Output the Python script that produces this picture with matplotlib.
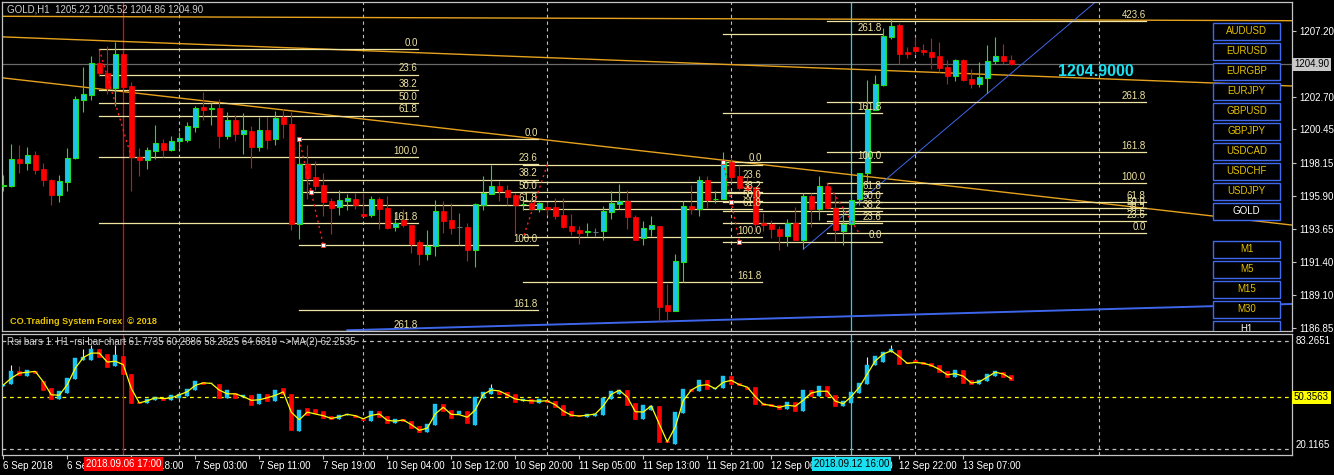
import matplotlib

matplotlib.use("Agg")
import matplotlib.pyplot as plt
import matplotlib.transforms as mtransforms
from matplotlib.patches import Rectangle
import numpy as np
import pandas as pd

plt.rcParams["font.family"] = ["Liberation Sans", "DejaVu Sans"]

W, H = 1334, 475
BG = "#000000"
BULL = "#1CC4F2"
BULL_EDGE = "#22DD22"
BEAR = "#FF0000"
DOJI = "#5C7878"
FIB = "#EFE4A2"
ORANGE = "#E6A21E"
BLUE = "#3E66EA"
GRID = "#BDBDBD"
FRAME = "#C4C4C4"

# GOLD H1, bar 0 = 2018.09.06 02:00
opens = [1196.58, 1196.60, 1198.41, 1198.18, 1198.70, 1197.75, 1197.00, 1195.98, 1196.88, 1198.48,
         1202.47, 1202.83, 1205.01, 1204.32, 1203.29, 1205.62, 1203.43, 1198.57, 1198.38, 1199.00,
         1199.53, 1199.07, 1199.63, 1199.75, 1200.65, 1201.99, 1201.88, 1201.92, 1200.03, 1201.10,
         1200.16, 1200.35, 1199.27, 1200.42, 1199.80, 1201.33, 1200.83, 1193.98, 1198.07, 1197.20,
         1196.65, 1195.55, 1195.16, 1195.57, 1195.69, 1194.64, 1194.59, 1195.69, 1195.07, 1193.79,
         1194.25, 1193.91, 1192.72, 1191.94, 1192.49, 1194.87, 1194.25, 1193.75, 1193.77, 1192.20,
         1195.28, 1196.05, 1196.58, 1196.31, 1195.96, 1195.35, 1195.44, 1194.98, 1195.14, 1195.14,
         1194.59, 1193.84, 1193.57, 1193.43, 1193.43, 1193.52, 1194.80, 1195.35, 1195.55, 1194.46,
         1193.00, 1193.64, 1193.84, 1188.43, 1188.02, 1191.38, 1195.21, 1195.01, 1196.99, 1195.66,
         1195.69, 1198.24, 1197.27, 1196.58, 1196.49, 1194.05, 1193.98, 1193.62, 1193.16, 1194.05,
         1192.88, 1195.90, 1195.01, 1196.56, 1195.05, 1193.52, 1193.98, 1195.67, 1197.45, 1201.79,
         1203.50, 1206.79, 1207.61, 1205.76, 1206.10, 1205.92, 1205.76, 1205.48, 1204.73, 1204.14,
         1205.21, 1203.91, 1203.59, 1204.00, 1205.14, 1205.48, 1205.22]
highs = [1197.33, 1199.46, 1199.39, 1199.25, 1198.98, 1198.18, 1197.04, 1197.33, 1199.18, 1202.74,
         1204.75, 1205.48, 1205.90, 1206.17, 1206.46, 1205.90, 1203.70, 1199.18, 1199.25, 1200.76,
         1199.80, 1200.01, 1200.28, 1200.96, 1202.06, 1203.04, 1202.27, 1202.54, 1201.65, 1201.44,
         1201.58, 1200.69, 1201.33, 1201.29, 1201.72, 1201.83, 1201.67, 1199.73, 1199.39, 1198.29,
         1197.47, 1195.74, 1196.31, 1196.03, 1196.12, 1196.12, 1195.90, 1195.81, 1195.90, 1194.80,
         1195.01, 1193.91, 1192.88, 1193.57, 1195.62, 1195.55, 1195.42, 1194.73, 1194.05, 1195.42,
         1197.27, 1198.02, 1196.92, 1196.65, 1196.08, 1195.76, 1195.76, 1195.51, 1195.51, 1195.74,
         1195.74, 1194.66, 1193.84, 1194.05, 1193.70, 1195.21, 1196.24, 1196.72, 1196.31, 1194.59,
         1194.18, 1194.53, 1193.84, 1189.87, 1191.92, 1195.55, 1196.65, 1197.27, 1197.27, 1196.24,
         1198.91, 1198.50, 1198.02, 1197.33, 1196.53, 1194.73, 1194.25, 1193.84, 1194.32, 1195.14,
         1196.08, 1196.08, 1197.27, 1196.77, 1195.96, 1195.05, 1195.76, 1197.45, 1203.84, 1204.18,
         1207.38, 1208.02, 1207.74, 1206.12, 1206.81, 1206.29, 1206.72, 1206.44, 1205.21, 1205.30,
         1205.28, 1204.59, 1205.07, 1206.24, 1206.79, 1206.31, 1205.52]
lows = [1196.26, 1196.53, 1197.49, 1197.68, 1197.40, 1196.60, 1195.30, 1195.51, 1196.26, 1198.45,
        1201.67, 1202.47, 1204.11, 1202.88, 1202.06, 1203.02, 1196.26, 1197.29, 1197.75, 1198.45,
        1198.57, 1199.00, 1199.14, 1199.61, 1200.30, 1201.12, 1200.76, 1199.20, 1199.82, 1199.68,
        1198.79, 1197.83, 1199.00, 1199.11, 1199.39, 1199.89, 1193.57, 1192.97, 1195.69, 1196.31,
        1194.55, 1193.29, 1194.59, 1194.94, 1195.01, 1194.55, 1194.44, 1193.64, 1193.64, 1193.52,
        1193.79, 1191.99, 1191.17, 1191.53, 1191.81, 1193.36, 1193.29, 1192.54, 1191.44, 1191.05,
        1194.94, 1196.05, 1195.55, 1195.28, 1193.22, 1194.94, 1194.94, 1194.82, 1194.59, 1194.32,
        1193.72, 1193.22, 1192.61, 1193.16, 1193.16, 1192.88, 1194.32, 1195.01, 1193.64, 1192.88,
        1192.54, 1193.16, 1187.27, 1187.27, 1188.02, 1190.01, 1194.66, 1194.53, 1195.07, 1195.42,
        1195.69, 1196.88, 1196.31, 1196.10, 1193.45, 1193.48, 1193.04, 1192.20, 1192.49, 1192.88,
        1192.25, 1193.79, 1194.23, 1195.05, 1192.81, 1192.54, 1193.91, 1195.28, 1196.88, 1201.79,
        1203.45, 1206.65, 1204.96, 1205.35, 1205.62, 1205.55, 1204.59, 1204.39, 1203.57, 1203.79,
        1203.79, 1203.29, 1203.36, 1202.93, 1204.94, 1204.94, 1204.86]
closes = [1196.65, 1198.41, 1198.18, 1198.70, 1197.68, 1197.01, 1195.98, 1196.90, 1198.50, 1202.54,
          1202.88, 1205.01, 1204.32, 1203.29, 1205.62, 1203.36, 1198.57, 1198.38, 1199.03, 1199.53,
          1199.07, 1199.66, 1199.87, 1200.69, 1201.92, 1201.81, 1201.92, 1200.03, 1201.10, 1200.16,
          1200.40, 1199.27, 1200.42, 1199.75, 1201.22, 1200.83, 1193.98, 1198.07, 1197.13, 1196.56,
          1195.51, 1195.09, 1195.62, 1195.76, 1195.26, 1194.55, 1195.69, 1195.01, 1193.70, 1194.03,
          1193.91, 1192.61, 1191.94, 1192.49, 1194.87, 1194.18, 1193.70, 1193.75, 1192.20, 1195.35,
          1196.10, 1196.58, 1196.24, 1195.83, 1195.28, 1195.38, 1194.98, 1195.44, 1195.01, 1194.55,
          1193.77, 1193.50, 1193.36, 1193.47, 1193.43, 1194.87, 1195.42, 1195.55, 1194.46, 1192.88,
          1193.70, 1193.91, 1188.29, 1188.02, 1191.42, 1195.21, 1195.01, 1196.99, 1195.62, 1195.70,
          1198.24, 1197.20, 1196.44, 1196.31, 1193.98, 1193.91, 1193.62, 1193.16, 1194.05, 1192.88,
          1195.90, 1195.01, 1196.56, 1195.05, 1193.57, 1193.98, 1195.62, 1197.45, 1201.83, 1203.57,
          1206.85, 1207.54, 1205.64, 1205.64, 1205.85, 1205.74, 1205.42, 1204.66, 1204.11, 1205.21,
          1203.84, 1203.57, 1204.05, 1205.14, 1205.48, 1205.14, 1204.90]

# RSI bars (sub window)
rsi_open = [57.0, 58.0, 66.0, 63.0, 66.0, 60.0, 55.7, 49.1, 53.1, 61.0,
            72.4, 72.4, 78.5, 75.9, 68.4, 74.5, 64.0, 47.7, 46.9, 48.5,
            50.1, 48.5, 50.1, 51.1, 54.5, 59.4, 58.6, 58.4, 50.1, 53.1,
            50.5, 51.5, 46.5, 52.1, 48.1, 55.7, 52.1, 30.6, 44.1, 43.6,
            42.2, 39.2, 37.8, 40.2, 40.2, 37.8, 36.6, 42.6, 39.2, 35.6,
            37.8, 36.6, 33.8, 30.2, 34.2, 46.5, 43.2, 40.6, 42.2, 34.2,
            50.1, 52.5, 54.1, 53.7, 52.1, 48.1, 49.5, 47.1, 48.5, 48.1,
            46.1, 42.2, 40.2, 38.6, 39.2, 40.2, 49.1, 52.5, 54.9, 47.1,
            37.8, 43.2, 45.1, 24.7, 23.3, 41.2, 55.1, 54.1, 60.4, 55.1,
            55.7, 62.6, 58.6, 56.5, 56.1, 47.1, 46.5, 45.7, 43.8, 47.7,
            42.6, 54.7, 51.1, 56.7, 51.7, 45.1, 47.1, 53.1, 58.0, 69.0,
            71.0, 76.9, 77.9, 71.0, 72.4, 71.0, 70.4, 69.4, 66.0, 62.4,
            66.4, 60.4, 58.0, 60.0, 63.0, 65.0, 63.4]
rsi_close = [57.5, 65.6, 63.4, 66.6, 64.4, 54.5, 49.1, 54.1, 61.4, 73.3,
             73.9, 78.5, 73.9, 68.0, 74.9, 64.0, 47.1, 47.1, 49.5, 50.7,
             48.5, 51.5, 52.1, 55.1, 59.6, 58.0, 59.0, 50.1, 54.7, 50.1,
             51.5, 45.7, 52.1, 48.1, 54.9, 52.1, 31.2, 43.2, 40.2, 41.0,
             38.2, 37.8, 40.2, 40.6, 38.6, 37.0, 42.6, 38.6, 35.2, 37.6,
             36.6, 32.2, 29.9, 34.8, 46.5, 42.6, 38.2, 42.2, 35.2, 50.7,
             53.5, 55.7, 52.5, 51.1, 47.7, 49.5, 47.1, 49.1, 47.5, 44.5,
             40.2, 39.6, 39.2, 40.6, 40.6, 50.1, 54.1, 54.9, 46.1, 37.8,
             45.7, 45.1, 24.3, 24.3, 41.8, 55.1, 54.1, 60.4, 55.1, 55.7,
             62.6, 58.0, 57.5, 55.1, 46.5, 46.1, 45.1, 43.8, 47.7, 42.6,
             54.7, 51.1, 56.7, 51.1, 45.1, 48.1, 53.5, 59.0, 69.0, 74.3,
             76.9, 78.3, 70.0, 70.4, 71.0, 69.6, 68.4, 65.0, 62.0, 66.4,
             59.0, 58.4, 60.4, 64.0, 66.0, 62.0, 60.4]
rsi_wick_high = {1: 69.0, 2: 68.6, 10: 78.3, 11: 80.9, 14: 80.9, 61: 58.0, 108: 73.9, 111: 80.9}
rsi_levels = [83.2651, 50.3563, 20.1165]

# time axis, one label every 8 bars
time_labels = ["6 Sep 2018", "6 Sep 10:00", "6 Sep 18:00", "7 Sep 03:00", "7 Sep 11:00",
               "7 Sep 19:00", "10 Sep 04:00", "10 Sep 12:00", "10 Sep 20:00", "11 Sep 05:00",
               "11 Sep 13:00", "11 Sep 21:00", "12 Sep 06:00", "12 Sep 14:00", "12 Sep 22:00",
               "13 Sep 07:00"]
price_ticks = [1207.20, 1202.70, 1200.45, 1198.15, 1195.90, 1193.65, 1191.40, 1189.10, 1186.85]

# trend lines: (bar0, price0, bar1, price1)
orange_lines = [(0, 1206.79, 161, 1203.43), (0, 1208.20, 161, 1207.90), (0, 1203.98, 161, 1193.91)]
blue_lines = [(43, 1186.70, 161, 1188.50, 1.4), (100, 1192.25, 137, 1209.40, 0.7)]

# fibonacci objects
fib_start = [12, 37, 65, 90, 103]
fib_end = [51.8, 66.8, 94.8, 109.8, 142.8]
fib_p0 = [1205.94, 1199.78, 1198.05, 1192.77, 1193.34]
fib_p100 = [1198.57, 1192.54, 1193.07, 1198.20, 1196.77]
fib_levels = [[0, 23.6, 38.2, 50, 61.8, 100, 161.8, 261.8],
              [0, 23.6, 38.2, 50, 61.8, 100, 161.8],
              [0, 23.6, 38.2, 50, 61.8, 100, 161.8],
              [0, 23.6, 38.2, 50, 61.8, 100, 161.8, 261.8],
              [0, 23.6, 38.2, 50, 61.8, 100, 161.8, 261.8, 423.6]]
fib_anchor_a = [(12, 1205.94), (37, 1199.78), (68, 1198.05), (90, 1198.20), (103, 1196.77)]
fib_anchor_b = [(16, 1198.57), (40, 1192.54), (65, 1193.07), (92, 1192.77), (107, 1193.34)]
fib_selected = [False, True, False, True, False]

symbols = ["AUDUSD", "EURUSD", "EURGBP", "EURJPY", "GBPUSD", "GBPJPY", "USDCAD", "USDCHF", "USDJPY", "GOLD"]
periods = ["M1", "M5", "M15", "M30", "H1"]

RED_BAR, CYAN_BAR = 15, 106
GRID_BARS = [22, 45, 68, 91, 114, 137]


def px_rect(x0, y0, x1, y1):
    return [x0 / W, 1 - y1 / H, (x1 - x0) / W, (y1 - y0) / H]


def draw_candles(ax, o, h, l, c, width, face, edge, wick_up, lw_edge):
    o, h, l, c = map(np.asarray, (o, h, l, c))
    x = np.arange(len(o))
    up = c > o + 1e-9
    dn = c < o - 1e-9
    dj = ~(up | dn)
    ax.vlines(x[up], l[up], h[up], color=wick_up, lw=0.8, zorder=4)
    ax.vlines(x[dn], l[dn], h[dn], color=BEAR, lw=0.8, zorder=4)
    ax.vlines(x[dj], l[dj], h[dj], color=DOJI, lw=0.8, zorder=4)
    ax.bar(x[up], (c - o)[up], bottom=o[up], width=width, color=face,
           edgecolor=edge, linewidth=lw_edge, zorder=5)
    ax.bar(x[dn], (o - c)[dn], bottom=c[dn], width=width, color=BEAR,
           edgecolor=BEAR, linewidth=0.5, zorder=5)
    ax.hlines(o[dj], x[dj] - width / 2, x[dj] + width / 2, color=DOJI, lw=0.8, zorder=5)


fig = plt.figure(figsize=(W / 100, H / 100), dpi=100, facecolor=BG)
ax = fig.add_axes(px_rect(2, 2, 1292, 331), facecolor=BG)
axr = fig.add_axes(px_rect(2, 334, 1292, 455), facecolor=BG)

XMIN, XMAX = -0.16, 161.09
for a in (ax, axr):
    a.set_xlim(XMIN, XMAX)
    for s in a.spines.values():
        s.set_color(FRAME)
        s.set_linewidth(0.9)
    for gb in GRID_BARS:
        a.axvline(gb, color=GRID, lw=0.8, ls=(0, (3, 3)), zorder=1)
    a.axvline(RED_BAR, color="#FF0000", lw=0.9, zorder=2)
    a.axvline(CYAN_BAR, color="#19D9E6", lw=0.9, zorder=2)

ax.set_ylim(1186.65, 1209.18)
axr.set_ylim(16.63, 87.36)

# --- main window ---
ax.axhline(closes[-1], color="#6A6A6A", lw=0.9, zorder=1)
for b0, p0, b1, p1 in orange_lines:
    ax.plot([b0, b1], [p0, p1], color=ORANGE, lw=1.0, zorder=2)
for b0, p0, b1, p1, lw in blue_lines:
    ax.plot([b0, b1], [p0, p1], color=BLUE, lw=lw, zorder=2)

for k in range(len(fib_start)):
    x0, x1 = fib_start[k], fib_end[k]
    for lv in fib_levels[k]:
        p = fib_p0[k] + (fib_p100[k] - fib_p0[k]) * lv / 100.0
        ax.plot([x0, x1], [p, p], color=FIB, lw=0.9, zorder=3)
        ax.annotate(f"{lv:.1f}", (x1, p), xytext=(0, 1), textcoords="offset points",
                    ha="right", va="bottom", color=FIB, fontsize=7, zorder=7,
                    annotation_clip=True)

draw_candles(ax, opens, highs, lows, closes, 0.62, BULL, BULL_EDGE, BULL_EDGE, 0.8)

for k in range(len(fib_start)):
    (xa, pa), (xb, pb) = fib_anchor_a[k], fib_anchor_b[k]
    ax.plot([xa, xb], [pa, pb], color="#FF2020", lw=1.0, ls=(0, (1.5, 2.5)), zorder=6)
    if fib_selected[k]:
        ax.plot([xa, (xa + xb) / 2, xb], [pa, (pa + pb) / 2, pb], ls="none", marker="s",
                ms=3.2, mfc="white", mec="#FF3030", mew=0.6, zorder=8)

ax.yaxis.tick_right()
ax.set_yticks(price_ticks)
ax.set_yticklabels([f"{v:.2f}" for v in price_ticks])
ax.tick_params(axis="y", colors=FRAME, labelcolor="white", length=3, width=0.8, labelsize=7, pad=2)
ax.set_xticks([])
ax.text(1.0015, closes[-1], f"{closes[-1]:.2f}", transform=ax.get_yaxis_transform(),
        ha="left", va="center", fontsize=7, color="black", zorder=20, clip_on=False,
        bbox=dict(boxstyle="square,pad=0.18", fc="#C8C8C8", ec="none"))
ax.text(131.8, 1204.39, f"{closes[-1]:.4f}", ha="left", va="center", fontsize=11.5,
        fontweight="bold", color="#19E0F0", zorder=9)

# --- RSI window ---
rsi_high = [max(o, c) for o, c in zip(rsi_open, rsi_close)]
rsi_low = [min(o, c) for o, c in zip(rsi_open, rsi_close)]
for i, v in rsi_wick_high.items():
    rsi_high[i] = v
draw_candles(axr, rsi_open, rsi_high, rsi_low, rsi_close, 0.45, BULL, BULL, "#E8E8E8", 0.3)
rsi_ma = pd.Series(rsi_close).rolling(2, min_periods=1).mean()
axr.plot(np.arange(len(rsi_ma)), rsi_ma, color="#FFFF00", lw=0.9, zorder=6)
for lv in rsi_levels:
    axr.axhline(lv, color="#FFFF00" if lv == rsi_levels[1] else GRID, lw=0.9,
                ls=(0, (3, 3)), zorder=1)
axr.set_yticks([])
ytr = axr.get_yaxis_transform()
axr.text(1.003, rsi_levels[0], f"{rsi_levels[0]:.4f}", transform=ytr, ha="left", va="center",
         fontsize=7, color="white", clip_on=False)
axr.text(1.0015, rsi_levels[1], f"{rsi_levels[1]:.4f}", transform=ytr, ha="left", va="center",
         fontsize=7, color="black", clip_on=False,
         bbox=dict(boxstyle="square,pad=0.18", fc="#FFFF00", ec="none"))
axr.text(1.003, rsi_levels[2] + 2.2, f"{rsi_levels[2]:.4f}", transform=ytr, ha="left",
         va="center", fontsize=7, color="white", clip_on=False)

axr.set_xticks(np.arange(len(time_labels)) * 8)
axr.set_xticklabels(time_labels, ha="left")
axr.tick_params(axis="x", colors=FRAME, labelcolor="white", length=3, width=0.8,
                labelsize=7, pad=1.5)
btr = mtransforms.blended_transform_factory(axr.transData, axr.transAxes)
axr.text(RED_BAR, -0.075, "2018.09.06 17:00", transform=btr, ha="center", va="center",
         fontsize=7, color="white", zorder=20, clip_on=False,
         bbox=dict(boxstyle="square,pad=0.2", fc="#FF0000", ec="none"))
axr.text(CYAN_BAR, -0.075, "2018.09.12 16:00", transform=btr, ha="center", va="center",
         fontsize=7, color="black", zorder=20, clip_on=False,
         bbox=dict(boxstyle="square,pad=0.2", fc="#19E0F0", ec="none"))

# --- overlay: headers and buttons (pixel coordinates) ---
ov = fig.add_axes([0, 0, 1, 1])
ov.set_xlim(0, W)
ov.set_ylim(H, 0)
ov.axis("off")
ov.patch.set_alpha(0)
ov.text(7, 10, "GOLD,H1  1205.22 1205.52 1204.86 1204.90", fontsize=7, color="#D0D0D0",
        va="center")
ov.text(10, 321, "CO.Trading System Forex  \u00a9 2018", fontsize=6.6, color="#E8C400",
        fontweight="bold", va="center")
ov.text(7, 342, "Rsi bars 1: H1  rsi bar chart 61.7735 60.2886 58.2825 64.6810  ->MA(2) 62.2535",
        fontsize=7, color="#D0D0D0", va="center")

for k, name in enumerate(symbols):
    top = 22.7 + 20 * k
    ov.add_patch(Rectangle((1213, top), 67, 17.6, fc=BG, ec="#3F6AF0", lw=1.0))
    ov.text(1246.5, top + 8.8, name, ha="center", va="center", fontsize=7,
            color="white" if name == "GOLD" else "#E6C200")
for k, name in enumerate(periods):
    top = 240.7 + 20 * k
    r = Rectangle((1213, top), 67, 17.6, fc=BG, ec="#3F6AF0", lw=1.0)
    ov.add_patch(r)
    r.set_clip_box(ax.bbox)
    t = ov.text(1246.5, top + 8.8, name, ha="center", va="center", fontsize=7,
                color="white" if name == "H1" else "#E6C200")
    t.set_clip_box(ax.bbox)
    t.set_clip_on(True)

fig.savefig("out.png", dpi=100, facecolor=BG)
